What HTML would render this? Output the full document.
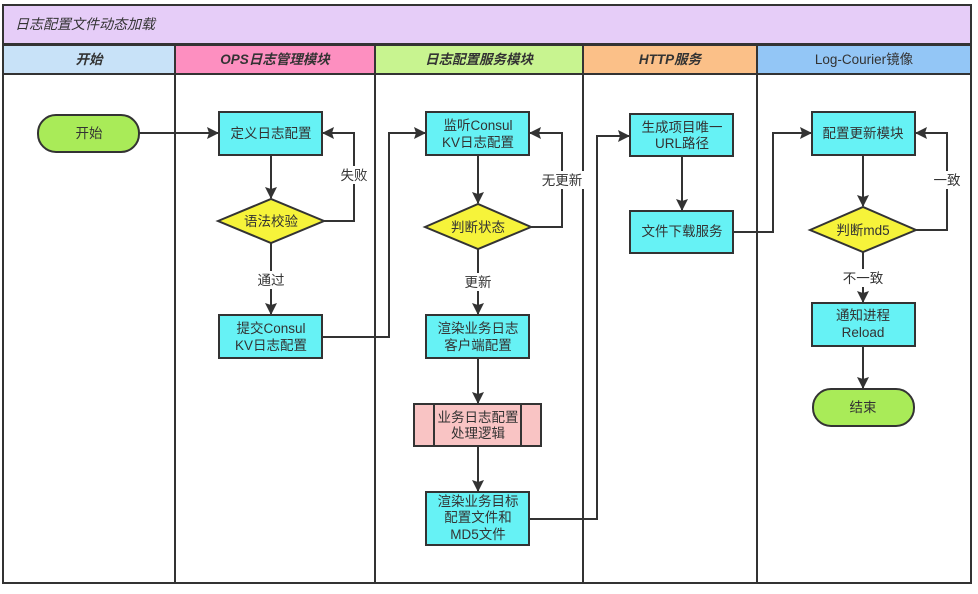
<!DOCTYPE html>
<html><head><meta charset="utf-8"><style>
body{margin:0;background:#fff;}
svg text{font-family:"Liberation Sans","Noto Sans CJK SC",sans-serif;fill:#333;}
</style></head><body>
<svg width="978" height="589" viewBox="0 0 978 589" xmlns="http://www.w3.org/2000/svg">
<defs><marker id="a" markerWidth="12" markerHeight="12" refX="11" refY="6" orient="auto" markerUnits="userSpaceOnUse"><path d="M0,0 L12,6 L0,12 L2,6 Z" fill="#333"/></marker></defs>
<rect x="3" y="5" width="968" height="578" fill="#fff" stroke="#333" stroke-width="2"/>
<rect x="3" y="5" width="968" height="39" fill="#e6cdf8" stroke="#333" stroke-width="2"/>
<text x="15" y="29" font-size="14" font-style="italic">日志配置文件动态加载</text>
<rect x="3" y="45" width="172" height="29" fill="#c8e2f8" stroke="#333" stroke-width="2"/>
<rect x="175" y="45" width="200" height="29" fill="#fd8fc0" stroke="#333" stroke-width="2"/>
<rect x="375" y="45" width="208" height="29" fill="#c8f490" stroke="#333" stroke-width="2"/>
<rect x="583" y="45" width="174" height="29" fill="#fbc088" stroke="#333" stroke-width="2"/>
<rect x="757" y="45" width="214" height="29" fill="#93c6f6" stroke="#333" stroke-width="2"/>
<g font-size="13.5" font-weight="bold" font-style="italic" text-anchor="middle">
<text x="89" y="64">开始</text><text x="275" y="64">OPS日志管理模块</text><text x="479" y="64">日志配置服务模块</text><text x="670" y="64">HTTP服务</text></g>
<text x="864" y="64" font-size="13.5" text-anchor="middle">Log-Courier镜像</text>
<g stroke="#333" stroke-width="2"><line x1="175" y1="74" x2="175" y2="583"/><line x1="375" y1="74" x2="375" y2="583"/><line x1="583" y1="74" x2="583" y2="583"/><line x1="757" y1="74" x2="757" y2="583"/></g>
<g fill="none" stroke="#333" stroke-width="2" marker-end="url(#a)">
<path d="M139 133H218"/><path d="M271 155V198"/><path d="M324 221H354V133H323"/><path d="M271 243V314"/>
<path d="M322 337H389V133H425"/><path d="M478 155V203"/><path d="M531 227H562V133H530"/><path d="M478 249V314"/>
<path d="M478 358V403"/><path d="M478 446V491"/><path d="M529 519H597V136H629"/><path d="M682 156V210"/>
<path d="M733 232H773V133H811"/><path d="M863 155V206"/><path d="M916 230H947V133H916"/><path d="M863 252V302"/><path d="M863 346V388"/>
</g>
<g fill="#fff" stroke="none"><rect x="340" y="166" width="30" height="18"/><rect x="255" y="271" width="32" height="18"/><rect x="540" y="171" width="44" height="18"/><rect x="462" y="273" width="32" height="18"/><rect x="932" y="171" width="30" height="18"/><rect x="842" y="269" width="44" height="18"/></g>
<g font-size="13.5" text-anchor="middle">
<text x="354" y="180">失败</text><text x="271" y="285">通过</text><text x="562" y="185">无更新</text><text x="478" y="287">更新</text><text x="947" y="185">一致</text><text x="863" y="283">不一致</text></g>
<g stroke="#333" stroke-width="2">
<rect x="38" y="115" width="101" height="37" rx="18" fill="#a9eb58"/>
<rect x="813" y="389" width="101" height="37" rx="18" fill="#a9eb58"/>
<g fill="#66f2f5">
<rect x="219" y="112" width="103" height="43"/><rect x="219" y="315" width="103" height="43"/>
<rect x="426" y="112" width="103" height="43"/><rect x="426" y="315" width="103" height="43"/><rect x="426" y="492" width="103" height="53"/>
<rect x="630" y="114" width="103" height="42"/><rect x="630" y="211" width="103" height="42"/>
<rect x="812" y="112" width="103" height="43"/><rect x="812" y="303" width="103" height="43"/></g>
<g fill="#f6f33a"><path d="M218 221L271 199L324 221L271 243Z"/><path d="M425 227L478 204L531 227L478 249Z"/><path d="M810 230L863 207L916 230L863 252Z"/></g>
<rect x="414" y="404" width="127" height="42" fill="#f9c4c4"/><line x1="434" y1="404" x2="434" y2="446"/><line x1="521" y1="404" x2="521" y2="446"/>
</g>
<g font-size="13.5" text-anchor="middle">
<text x="89" y="138">开始</text><text x="863" y="412">结束</text>
<text x="271" y="138">定义日志配置</text><text x="271" y="226">语法校验</text>
<text x="271" y="333">提交Consul</text><text x="271" y="350">KV日志配置</text>
<text x="478" y="130">监听Consul</text><text x="478" y="147">KV日志配置</text><text x="478" y="232">判断状态</text>
<text x="478" y="333">渲染业务日志</text><text x="478" y="350">客户端配置</text>
<text x="478" y="422">业务日志配置</text><text x="478" y="438">处理逻辑</text>
<text x="478" y="506">渲染业务目标</text><text x="478" y="522">配置文件和</text><text x="478" y="539">MD5文件</text>
<text x="682" y="132">生成项目唯一</text><text x="682" y="148">URL路径</text><text x="682" y="236">文件下载服务</text>
<text x="863" y="138">配置更新模块</text><text x="863" y="235">判断md5</text>
<text x="863" y="320">通知进程</text><text x="863" y="337">Reload</text>
</g>
</svg>
</body></html>
